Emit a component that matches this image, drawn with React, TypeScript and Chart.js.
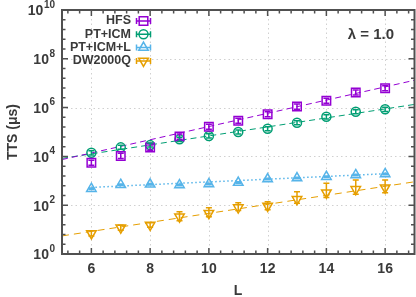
import React, { useEffect, useRef } from "react";
import { Chart, registerables } from "chart.js";

Chart.register(...registerables);

// ---- data ----
const L = [6, 7, 8, 9, 10, 11, 12, 13, 14, 15, 16];

const hfs = [5.5e3, 1.05e4, 2.3e4, 6.5e4, 1.65e5, 2.9e5, 5.3e5, 1.1e6, 1.9e6, 4.2e6, 6.2e6];
const hfsLo = [4.3e3, 8.2e3, 1.8e4, 5.1e4, 1.3e5, 2.3e5, 4.2e5, 8.6e5, 1.5e6, 3.3e6, 4.9e6];
const hfsHi = [7.0e3, 1.35e4, 2.9e4, 8.3e4, 2.1e5, 3.7e5, 6.7e5, 1.4e6, 2.4e6, 5.3e6, 7.8e6];

const ptIcm = [1.4e4, 2.35e4, 2.9e4, 5.0e4, 6.9e4, 1.0e5, 1.37e5, 2.4e5, 4.2e5, 6.8e5, 8.5e5];
const ptIcmLo = [1.15e4, 1.95e4, 2.4e4, 4.1e4, 5.7e4, 8.3e4, 1.13e5, 2.0e5, 3.4e5, 5.6e5, 7.0e5];
const ptIcmHi = [1.7e4, 2.85e4, 3.5e4, 6.1e4, 8.4e4, 1.2e5, 1.66e5, 2.9e5, 5.1e5, 8.2e5, 1.03e6];

const ptIcmL = [475, 690, 720, 670, 740, 850, 1180, 1300, 1480, 1740, 1900];
const ptIcmLLo = [440, 640, 670, 620, 690, 790, 1100, 1210, 1380, 1620, 1770];
const ptIcmLHi = [510, 740, 770, 720, 790, 910, 1260, 1390, 1580, 1860, 2030];

const dw = [7, 12, 15.5, 34, 47, 80, 93, 174, 325, 450, 525];
const dwLo = [5.5, 9.5, 12.5, 23, 34, 60, 65, 120, 205, 280, 325];
const dwHi = [9, 15, 19, 54, 79, 125, 140, 355, 800, 1070, 1070];

const fitX = [5, 17];
const hfsFit = [7.4e3, 1.32e7];
const ptIcmFit = [8.3e3, 1.35e6];
const ptIcmLFitX = [6, 16];
const ptIcmLFit = [537, 1950];
const dwFit = [5.5, 912];

const seriesNames = ["HFS", "PT+ICM", "PT+ICM+L", "DW2000Q"];
const xTickValues = [6, 8, 10, 12, 14, 16];
const yTickExponents = [0, 2, 4, 6, 8, 10];
const xTitle = "L";
const yTitle = "TTS (\u03bcs)";
const annotation = "\u03bb = 1.0";

const colors = ["#9400d3", "#009e73", "#56b4e9", "#e69f00"];
const markers = ["square", "circle", "triangle", "invtriangle"];
const TEXT = "#3a3a3a";
const FRAME = "#505050";

const pts = (xs: number[], ys: number[]) => xs.map((x, i) => ({ x, y: ys[i] }));

function drawMarker(ctx: CanvasRenderingContext2D, kind: string, x: number, y: number) {
  ctx.beginPath();
  if (kind === "square") {
    const s = 4.3;
    ctx.rect(x - s, y - s, 2 * s, 2 * s);
  } else if (kind === "circle") {
    ctx.arc(x, y, 4.5, 0, Math.PI * 2);
  } else if (kind === "triangle") {
    const r = 5.5;
    ctx.moveTo(x, y - r);
    ctx.lineTo(x + r * 0.866, y + r * 0.5);
    ctx.lineTo(x - r * 0.866, y + r * 0.5);
    ctx.closePath();
  } else {
    const r = 5.5;
    ctx.moveTo(x, y + r);
    ctx.lineTo(x + r * 0.866, y - r * 0.5);
    ctx.lineTo(x - r * 0.866, y - r * 0.5);
    ctx.closePath();
  }
  ctx.stroke();
}

const customPlugin = {
  id: "gnuplotLook",
  beforeDatasetsDraw(chart: any) {
    const { ctx, chartArea: a, scales } = chart;
    const xs = scales.x;
    const ys = scales.y;
    ctx.save();
    ctx.strokeStyle = "#d0d0d0";
    ctx.lineWidth = 1;
    ctx.setLineDash([1.5, 3]);
    for (const v of xTickValues) {
      const px = Math.round(xs.getPixelForValue(v)) + 0.5;
      ctx.beginPath();
      ctx.moveTo(px, a.top);
      ctx.lineTo(px, a.bottom);
      ctx.stroke();
    }
    for (const e of yTickExponents) {
      if (e === 0 || e === 10) continue;
      const py = Math.round(ys.getPixelForValue(Math.pow(10, e))) + 0.5;
      ctx.beginPath();
      ctx.moveTo(a.left, py);
      ctx.lineTo(a.right, py);
      ctx.stroke();
    }
    ctx.restore();
  },
  afterDatasetsDraw(chart: any) {
    const { ctx, chartArea: a, scales } = chart;
    const xs = scales.x;
    const ys = scales.y;
    ctx.save();
    // error bars
    const groups = [
      [hfs, hfsLo, hfsHi],
      [ptIcm, ptIcmLo, ptIcmHi],
      [ptIcmL, ptIcmLLo, ptIcmLHi],
      [dw, dwLo, dwHi],
    ];
    ctx.lineWidth = 1.5;
    groups.forEach((g, gi) => {
      ctx.strokeStyle = colors[gi];
      L.forEach((xv, i) => {
        const px = xs.getPixelForValue(xv);
        const y1 = ys.getPixelForValue(g[1][i]);
        const y2 = ys.getPixelForValue(g[2][i]);
        ctx.beginPath();
        ctx.moveTo(px, y1);
        ctx.lineTo(px, y2);
        ctx.moveTo(px - 3, y1);
        ctx.lineTo(px + 3, y1);
        ctx.moveTo(px - 3, y2);
        ctx.lineTo(px + 3, y2);
        ctx.stroke();
      });
    });

    // frame
    ctx.strokeStyle = FRAME;
    ctx.lineWidth = 2;
    ctx.strokeRect(a.left, a.top, a.right - a.left, a.bottom - a.top);

    // ticks
    ctx.lineWidth = 1.5;
    for (let v = 5.2; v < 17; v += 0.4) {
      const px = xs.getPixelForValue(v);
      const major = xTickValues.some((t) => Math.abs(t - v) < 0.01);
      const len = major ? 6 : 3.5;
      ctx.beginPath();
      ctx.moveTo(px, a.bottom);
      ctx.lineTo(px, a.bottom - len);
      ctx.moveTo(px, a.top);
      ctx.lineTo(px, a.top + len);
      ctx.stroke();
    }
    for (let k = 1; k < 25; k++) {
      const e = k * 0.4;
      const py = ys.getPixelForValue(Math.pow(10, e));
      const major = Math.abs(e - Math.round(e)) < 0.01 && Math.round(e) % 2 === 0;
      const len = major ? 6 : 3.5;
      ctx.beginPath();
      ctx.moveTo(a.left, py);
      ctx.lineTo(a.left + len, py);
      ctx.moveTo(a.right, py);
      ctx.lineTo(a.right - len, py);
      ctx.stroke();
    }

    // tick labels
    ctx.fillStyle = TEXT;
    ctx.font = "bold 14px 'Liberation Sans', Arial, sans-serif";
    ctx.textAlign = "center";
    ctx.textBaseline = "middle";
    for (const v of xTickValues) {
      ctx.fillText(String(v), xs.getPixelForValue(v), a.bottom + 15);
    }
    for (const e of yTickExponents) {
      const py = ys.getPixelForValue(Math.pow(10, e));
      const expStr = String(e);
      ctx.font = "bold 10px 'Liberation Sans', Arial, sans-serif";
      const ew = ctx.measureText(expStr).width;
      const right = a.left - 7;
      ctx.textAlign = "left";
      ctx.fillText(expStr, right - ew, py - 5);
      ctx.font = "bold 14px 'Liberation Sans', Arial, sans-serif";
      ctx.textAlign = "right";
      ctx.fillText("10", right - ew - 0.5, py + 1.5);
    }

    // axis titles
    ctx.textAlign = "center";
    ctx.font = "bold 14px 'Liberation Sans', Arial, sans-serif";
    ctx.fillText(xTitle, 238, a.bottom + 37);
    ctx.save();
    ctx.translate(13, 132);
    ctx.rotate(-Math.PI / 2);
    ctx.fillText(yTitle, 0, 0);
    ctx.restore();

    // annotation
    ctx.font = "bold 15px 'Liberation Sans', Arial, sans-serif";
    ctx.textAlign = "right";
    ctx.fillText(annotation, 394, 35);

    // legend
    ctx.font = "bold 12.5px 'Liberation Sans', Arial, sans-serif";
    seriesNames.forEach((name, i) => {
      const y = a.top + 11 + i * 13.3;
      ctx.fillStyle = TEXT;
      ctx.textAlign = "right";
      ctx.fillText(name, 131, y);
      const cx = 143.5;
      ctx.strokeStyle = colors[i];
      ctx.lineWidth = 1.5;
      ctx.beginPath();
      ctx.moveTo(cx - 7, y);
      ctx.lineTo(cx + 7, y);
      ctx.moveTo(cx - 7, y - 3);
      ctx.lineTo(cx - 7, y + 3);
      ctx.moveTo(cx + 7, y - 3);
      ctx.lineTo(cx + 7, y + 3);
      ctx.stroke();
      drawMarker(ctx, markers[i], cx, y);
    });
    ctx.restore();
  },
};

export default function App() {
  const ref = useRef<HTMLCanvasElement | null>(null);
  useEffect(() => {
    document.body.style.margin = "0";
    if (!ref.current) return;
    const mk = (label: string, data: number[], i: number, style: string, rot = 0) => ({
      label,
      data: pts(L, data),
      showLine: false,
      borderColor: colors[i],
      backgroundColor: "rgba(0,0,0,0)",
      pointStyle: style,
      pointRotation: rot,
      pointRadius: style === "rect" ? 6 : style === "circle" ? 4.5 : 5.5,
      pointBorderWidth: 1.5,
      order: 1,
    });
    const fit = (xs: number[], data: number[], i: number, dash: number[], width = 1) => ({
      data: pts(xs, data),
      showLine: true,
      borderColor: colors[i],
      borderWidth: width,
      borderDash: dash,
      pointRadius: 0,
      fill: false,
      order: 2,
    });
    const chart = new Chart(ref.current, {
      type: "scatter",
      data: {
        datasets: [
          fit(fitX, hfsFit, 0, [6, 4]),
          fit(fitX, ptIcmFit, 1, [6, 4]),
          fit(ptIcmLFitX, ptIcmLFit, 2, [1.5, 2.5], 1.5),
          fit(fitX, dwFit, 3, [7, 5]),
          mk(seriesNames[0], hfs, 0, "rect"),
          mk(seriesNames[1], ptIcm, 1, "circle"),
          mk(seriesNames[2], ptIcmL, 2, "triangle"),
          mk(seriesNames[3], dw, 3, "triangle", 180),
        ] as any,
      },
      options: {
        responsive: false,
        animation: false,
        layout: { autoPadding: false, padding: { top: 10, right: 1.5, left: 0, bottom: 0 } },
        plugins: { legend: { display: false }, tooltip: { enabled: false } },
        scales: {
          x: {
            type: "linear",
            min: 5,
            max: 17,
            ticks: { display: false },
            grid: { display: false },
            border: { display: false },
            afterFit: (s: any) => {
              s.height = 43;
            },
          },
          y: {
            type: "logarithmic",
            min: 1,
            max: 1e10,
            ticks: { display: false },
            grid: { display: false },
            border: { display: false },
            afterFit: (s: any) => {
              s.width = 62;
            },
          },
        },
      } as any,
      plugins: [customPlugin],
    });
    return () => chart.destroy();
  }, []);
  return (
    <div style={{ width: 416, height: 297, background: "#fff" }}>
      <canvas ref={ref} width={416} height={297} style={{ display: "block" }} />
    </div>
  );
}
